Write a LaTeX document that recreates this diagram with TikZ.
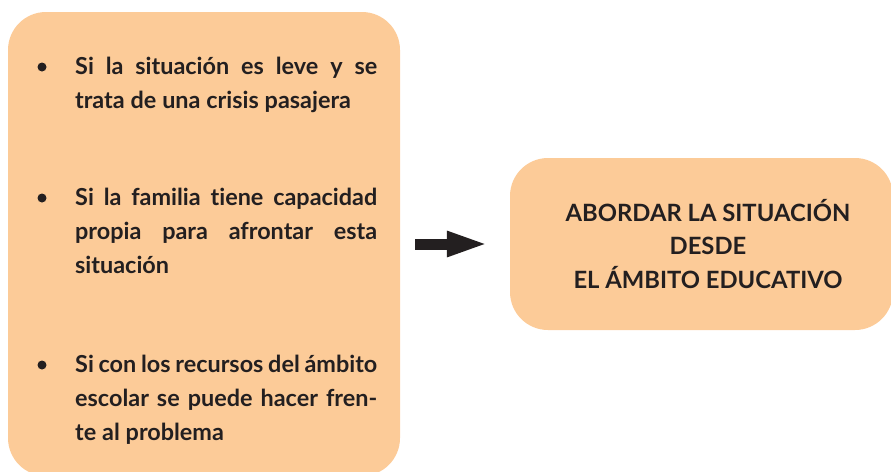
\documentclass[tikz,border=0pt]{standalone}
\usepackage{fontspec}
\setmainfont{Lato}[Ligatures=NoCommon]
\usetikzlibrary{arrows.meta}
\definecolor{boxfill}{RGB}{252,203,152}
\definecolor{ink}{RGB}{35,31,32}
\newcommand{\jline}[1]{\makebox[302pt][s]{#1}}
\newcommand{\lline}[1]{\makebox[302pt][l]{#1}}
\newcommand{\itemfont}{\bfseries\fontsize{23.4}{34}\selectfont\spaceskip=0.25em plus 1em minus 0.1em\relax}
\begin{document}
\begin{tikzpicture}[x=1pt,y=-1pt,
  panel/.style={fill=boxfill, draw=none, rounded corners=38pt, inner sep=0pt},
  itemtext/.style={anchor=base west, inner sep=0pt, text=ink},
  bul/.style={circle, fill=ink, inner sep=0pt, minimum size=9pt},
  arrowline/.style={draw=ink, line width=11pt, -{Triangle[length=42pt,width=23pt]}}]
\useasboundingbox (0,0) rectangle (891,471);
\node[panel, minimum width=392pt, minimum height=464pt] (conds) at (204,244) {};
\node[panel, minimum width=383pt, minimum height=172pt] (action) at (701.5,244) {};
% items
\node[bul] (b1) at (42,67) {};
\node[itemtext] (i1) at (75,74) {\parbox[t]{302pt}{\itemfont
  \jline{Si la situación es leve y se}\\
  \lline{trata de una crisis pasajera}}};
\node[bul] (b2) at (42,198) {};
\node[itemtext] (i2) at (75,205) {\parbox[t]{302pt}{\itemfont
  \jline{Si la familia tiene capacidad}\\
  \jline{propia para afrontar esta}\\
  \lline{situación}}};
\node[bul] (b3) at (42,365) {};
\node[itemtext] (i3) at (75,372) {\parbox[t]{302pt}{\itemfont
  \jline{Si con los recursos del ámbito}\\
  \jline{escolar se puede hacer fren-}\\
  \lline{te al problema}}};
% action text
\node[anchor=base, inner sep=0pt, text=ink] (t) at (708,221) {\parbox[t]{340pt}{\centering\bfseries\fontsize{23.8}{33.5}\selectfont
  ABORDAR LA SITUACIÓN\\ DESDE\\ EL ÁMBITO EDUCATIVO}};
% arrow
\draw[arrowline, shorten <=15pt, shorten >=21pt] (conds.east) -- (action.west);
\end{tikzpicture}
\end{document}
